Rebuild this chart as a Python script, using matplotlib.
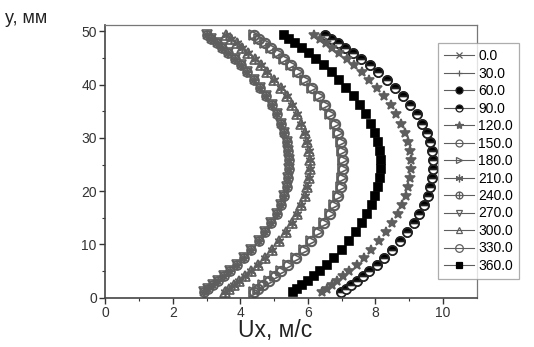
import matplotlib
matplotlib.use("Agg")
import matplotlib.pyplot as plt
from matplotlib.lines import Line2D
from matplotlib.path import Path

plt.rcParams['font.family'] = ['Liberation Sans', 'DejaVu Sans']

# distance from the bottom wall, mm (same grid for every angle)
y_mm = [1.0, 1.6, 2.3, 3.1, 4.0, 5.0, 6.2, 7.5, 9.0, 10.6, 12.3, 14.0,
        15.7, 17.4, 19.1, 20.8, 22.5, 24.2, 25.9, 27.6, 29.3, 31.0, 32.7, 34.4,
        36.1, 37.8, 39.4, 40.9, 42.3, 43.6, 44.8, 45.9, 46.9, 47.8, 48.6, 49.3]

# velocity profiles Ux, m/s
ux_a = [2.93, 3.05, 3.19, 3.35, 3.52, 3.70, 3.90, 4.11, 4.33, 4.54, 4.74, 4.92,
        5.07, 5.20, 5.30, 5.37, 5.42, 5.45, 5.45, 5.42, 5.37, 5.30, 5.20, 5.08,
        4.94, 4.77, 4.59, 4.40, 4.21, 4.02, 3.83, 3.64, 3.46, 3.30, 3.14, 3.00]
ux_b = [3.54, 3.67, 3.81, 3.96, 4.13, 4.31, 4.51, 4.72, 4.94, 5.15, 5.35, 5.52,
        5.67, 5.80, 5.90, 5.97, 6.02, 6.05, 6.05, 6.02, 5.97, 5.90, 5.80, 5.68,
        5.54, 5.37, 5.19, 5.00, 4.80, 4.61, 4.42, 4.23, 4.06, 3.89, 3.73, 3.59]
ux_c = [4.40, 4.53, 4.68, 4.84, 5.02, 5.21, 5.42, 5.64, 5.87, 6.09, 6.31, 6.49,
        6.65, 6.78, 6.89, 6.97, 7.02, 7.05, 7.05, 7.02, 6.97, 6.89, 6.79, 6.66,
        6.50, 6.32, 6.12, 5.92, 5.71, 5.51, 5.30, 5.10, 4.91, 4.73, 4.56, 4.41]
ux_d = [5.56, 5.69, 5.83, 5.99, 6.17, 6.35, 6.56, 6.77, 7.00, 7.22, 7.42, 7.61,
        7.76, 7.89, 7.99, 8.07, 8.12, 8.15, 8.15, 8.12, 8.06, 7.98, 7.86, 7.72,
        7.55, 7.36, 7.14, 6.92, 6.70, 6.47, 6.25, 6.03, 5.82, 5.63, 5.45, 5.29]
ux_e = [6.42, 6.55, 6.70, 6.86, 7.04, 7.23, 7.44, 7.65, 7.88, 8.10, 8.31, 8.50,
        8.66, 8.79, 8.89, 8.97, 9.02, 9.05, 9.05, 9.02, 8.96, 8.88, 8.76, 8.62,
        8.45, 8.26, 8.04, 7.82, 7.60, 7.37, 7.15, 6.93, 6.72, 6.53, 6.35, 6.19]
ux_f = [6.99, 7.12, 7.28, 7.44, 7.63, 7.82, 8.04, 8.26, 8.50, 8.72, 8.94, 9.13,
        9.29, 9.43, 9.54, 9.62, 9.67, 9.70, 9.70, 9.66, 9.60, 9.51, 9.38, 9.22,
        9.03, 8.81, 8.58, 8.33, 8.08, 7.83, 7.58, 7.34, 7.11, 6.89, 6.69, 6.51]

angles = ["0.0", "30.0", "60.0", "90.0", "120.0", "150.0", "180.0",
          "210.0", "240.0", "270.0", "300.0", "330.0", "360.0"]
profiles = [ux_a, ux_a, ux_f, ux_f, ux_e, ux_c, ux_c,
            ux_b, ux_a, ux_a, ux_b, ux_c, ux_d]

# circle with a cross inside
circle_plus = Path.make_compound_path(
    Path.unit_circle(),
    Path([(-1, 0), (1, 0)], [Path.MOVETO, Path.LINETO]),
    Path([(0, -1), (0, 1)], [Path.MOVETO, Path.LINETO]),
)

GRAY = '#5e5e5e'
# marker, size, face, edge, fillstyle
styles = [
    ('x', 5.5, 'none', GRAY, 'full'),
    ('+', 5.5, 'none', GRAY, 'full'),
    ('o', 6.5, 'black', '#222222', 'full'),
    ('o', 6.5, 'black', '#222222', 'top'),
    ('*', 7.5, GRAY, GRAY, 'full'),
    ('o', 6.5, 'none', GRAY, 'full'),
    ('>', 6.5, 'none', GRAY, 'full'),
    ((6, 2, 0), 7, 'none', GRAY, 'full'),
    (circle_plus, 6.5, 'none', GRAY, 'full'),
    ('v', 6.5, 'none', GRAY, 'full'),
    ('^', 6.5, 'none', GRAY, 'full'),
    ('o', 7, 'none', GRAY, 'full'),
    ('s', 6, 'black', 'black', 'full'),
]

fig = plt.figure(figsize=(5.34, 3.47), dpi=100)
ax = fig.add_axes([0.197, 0.142, 0.696, 0.786])

handles = []
for label, ux, (m, ms, fc, ec, fs) in zip(angles, profiles, styles):
    ax.plot(ux, y_mm, ls='none', marker=m, ms=ms, mfc=fc, mec=ec,
            mew=1.2, fillstyle=fs, markerfacecoloralt='white')
    handles.append(Line2D([], [], color=GRAY, lw=0.8, marker=m, ms=ms - 1.5,
                          mfc=fc, mec=ec, mew=0.9, fillstyle=fs,
                          markerfacecoloralt='white', label=label))

ax.set_xlim(0, 11)
ax.set_ylim(0, 51.2)
ax.set_xticks([0, 2, 4, 6, 8, 10])
ax.set_xticks([1, 3, 5, 7, 9], minor=True)
ax.set_yticks([0, 10, 20, 30, 40, 50])
ax.set_yticks([5, 15, 25, 35, 45], minor=True)
ax.tick_params(which='major', direction='out', length=4, width=1, labelsize=10,
               colors='#333333', pad=2)
ax.tick_params(which='minor', direction='out', length=2.5, width=0.8,
               colors='#333333')
for side in ('left', 'bottom'):
    ax.spines[side].set_linewidth(1.2)
    ax.spines[side].set_color('#444444')
for side in ('top', 'right'):
    ax.spines[side].set_linewidth(0.9)
    ax.spines[side].set_color('#777777')

# axis titles sit where the original layout had them
fig.text(0.01, 0.935, 'y, мм', fontsize=13, color='#222222')
fig.text(0.515, 0.03, 'Ux, м/с', fontsize=16.5, color='#222222',
         ha='center', va='baseline')

leg = ax.legend(handles=handles, loc='upper left', bbox_to_anchor=(0.895, 0.934),
                fontsize=10, frameon=True, fancybox=False, handlelength=2.15,
                handletextpad=0.3, labelspacing=0.25, borderpad=0.45,
                borderaxespad=0)
leg.get_frame().set_edgecolor('#999999')
leg.get_frame().set_linewidth(0.9)

fig.savefig('out.png', dpi=100)
